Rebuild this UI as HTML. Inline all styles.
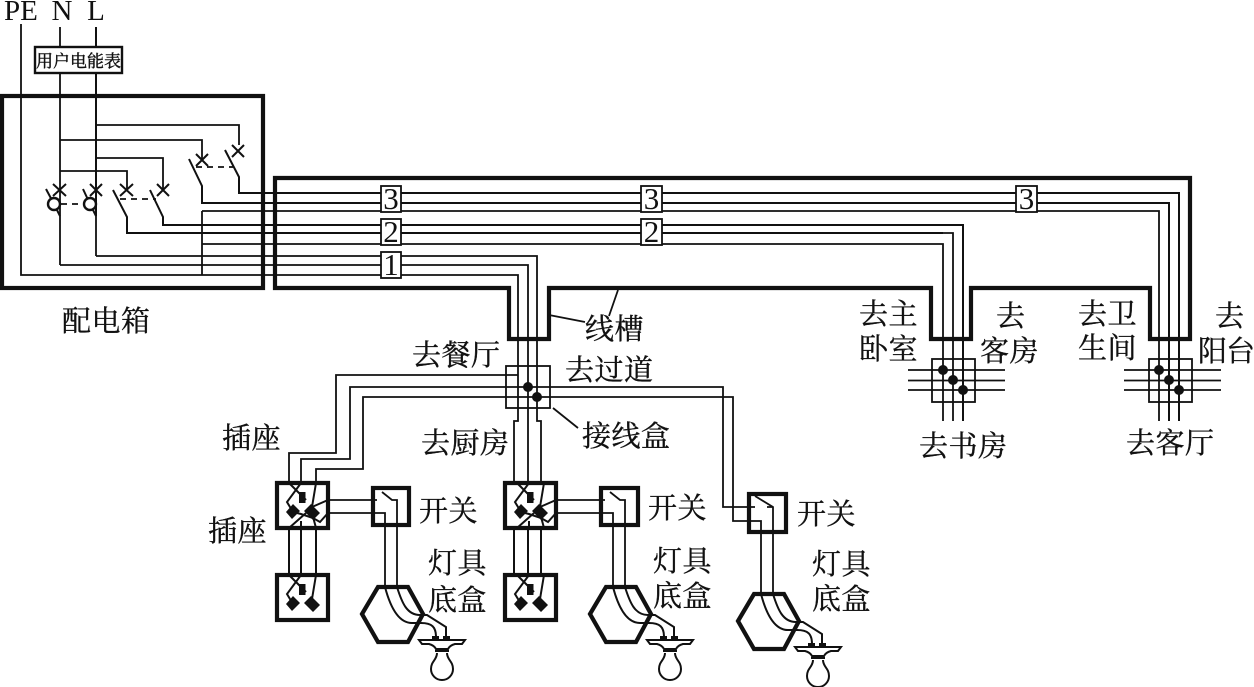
<!DOCTYPE html>
<html><head><meta charset="utf-8"><style>
html,body{margin:0;padding:0;background:#fff;width:1254px;height:687px;overflow:hidden}
svg{display:block}
text{font-family:"Liberation Serif","Noto Serif CJK SC",serif;fill:#111}
.c{font-size:29px;letter-spacing:.5px;stroke:#111;stroke-width:.35}
.n{font-size:29px;text-anchor:middle;letter-spacing:0}
.d{font-size:31px;text-anchor:middle}
.w{fill:none;stroke:#111;stroke-width:1.8}
.b{fill:none;stroke:#111;stroke-width:2}
.t{fill:none;stroke:#111;stroke-width:4.2}
</style></head><body>
<svg width="1254" height="687" viewBox="0 0 1254 687" xmlns="http://www.w3.org/2000/svg">
<defs>
<g id="sock0">
<path class="b" d="M12 0L29 17M24 0L10 19L16 29M39 0L35 24"/>
<rect x="22" y="9" width="6.500" height="11" fill="#111"/>
<path d="M16 21L23 28L15 36L9 29Z M34 21L43 30L36 37L27 28Z" fill="#111"/>
</g>
<g id="sock1">
<path class="t" d="M0 0H51V45H0Z" fill="none"/>
<use href="#sock0"/>
<path class="b" d="M51 17L35 24M51 30L43 39L36 35L24 31L16 29M12 45L29 30M39 45L35 30M24 45L24 38"/>
</g>
<g id="sock2"><rect x="0" y="0" width="51" height="45" class="t"/><use href="#sock0"/></g>
<g id="lamp">
<path class="t" d="M362 614L378 587H408L423 614L408 642H378Z"/>
<path class="b" d="M385 587C390 606 398 623 412 623H421C432 623 436 627 436 637M397 587C402 603 407 615 420 615H427L446 627V637"/>
<rect x="432" y="636" width="7" height="5" fill="#111"/><rect x="443" y="636" width="7" height="5" fill="#111"/>
<path d="M419 640H465L462 644H455C451 645 449 647 448 649H436C435 647 433 645 429 644H422Z" fill="#fff" stroke="#111" stroke-width="2"/>
<path class="b" d="M435 651H449M437 653C437 660 431 661 431 669A11 11 0 0 0 453 669C453 661 447 660 447 653"/>
</g>
</defs>

<!-- labels -->
<text x="4" y="20" class="n" style="text-anchor:start">PE</text>
<text x="62" y="20" class="n">N</text>
<text x="96" y="20" class="n">L</text>

<!-- distribution box -->
<rect x="2" y="96" width="261" height="192" class="t"/>
<!-- trough -->
<path class="t" d="M275 178H1190V339H1150V288H971V339H931V288H549V339H509V288H275Z"/>

<!-- wires in panel -->
<path class="w" d="M21 24V275H518V421H514V483"/>
<path class="w" d="M60 27V216M60 265H528V483"/>
<path class="b" d="M96 27V216" />
<path class="w" d="M96 256H537V421H541V483"/>
<path class="w" d="M96 216V256"/>
<path class="w" d="M60 216V265"/>
<path class="w" d="M96 125H239V145M60 140H202V160M96 158H163V190M60 171H127V190"/>
<path class="w" d="M202 211V275M202 244H275M202 211H1159V421M202 244H943V421"/>
<rect x="35" y="47" width="87" height="26" fill="#fff" stroke="#111" stroke-width="2.400"/>
<text x="36" y="67" style="font-size:17px;stroke:#111;stroke-width:.4">用户电能表</text>
<!-- switch X -->
<path class="b" d="M53 184L66 196M66 184L53 196M90 184L102 196M102 184L90 196M120 184L133 196M133 184L120 196M157 184L169 196M169 184L157 196M196 154L208 166M208 154L196 166M232 145L244 157M244 145L232 157"/>
<!-- blades -->
<path class="b" d="M46 189L54 204L60 216M83 189L90 204L96 216M113 190L127 217V233H943M150 190L163 217V225H963V421M189 159L202 186V203H1169V421M225 150L239 177V193H1179V421"/>
<path class="w" d="M127 233H953V421" />
<circle cx="54" cy="204" r="6" fill="#fff" stroke="#111" stroke-width="2.400"/>
<circle cx="90" cy="204" r="6" fill="#fff" stroke="#111" stroke-width="2.400"/>
<path class="w" stroke-dasharray="6 5" d="M61 204H84M120 199H156M196 167H233"/>

<!-- number tags -->
<g fill="#fff" stroke="#111" stroke-width="1.800">
<rect x="381" y="186" width="20" height="26"/><rect x="381" y="219" width="20" height="26"/><rect x="381" y="252" width="20" height="26"/>
<rect x="641" y="186" width="21" height="26"/><rect x="641" y="219" width="21" height="26"/><rect x="1016" y="186" width="21" height="26"/>
</g>
<text x="391" y="209" class="d">3</text>
<text x="391" y="242" class="d">2</text>
<text x="391" y="275" class="d">1</text>
<text x="651.500" y="209" class="d">3</text>
<text x="651.500" y="242" class="d">2</text>
<text x="1026.500" y="209" class="d">3</text>

<!-- junction boxes -->
<rect x="506" y="366" width="44" height="42" class="w"/>
<rect x="932" y="359" width="43" height="43" class="w"/>
<rect x="1149" y="359" width="43" height="43" class="w"/>
<path class="w" d="M518 375H336V453H289V483M528 387H350V459H301V483M537 397H363V469H316V483"/>
<path class="w" d="M528 387H723V507H755M537 397H733V521H761V594M773 594V507L755 496M773 507H767"/>
<path class="w" d="M908 370H1005M908 380.500H1005M908 390H1005M1124 370H1221M1124 380.500H1221M1124 390H1221"/>
<g fill="#111">
<circle cx="528" cy="387" r="5"/><circle cx="537" cy="397" r="5"/>
<circle cx="943" cy="370" r="5"/><circle cx="953" cy="380" r="5"/><circle cx="963" cy="390" r="5"/>
<circle cx="1159" cy="370" r="5"/><circle cx="1169" cy="380" r="5"/><circle cx="1179" cy="390" r="5"/>
</g>

<!-- sockets and connections -->
<g>
<use href="#sock1" x="277" y="483"/><use href="#sock2" x="277" y="575"/>
<path class="b" d="M289 528V575M301 528V575M316 528V575"/>
<path class="w" d="M328 500H377M328 513H385V587M382 492L392 500H397V587"/>
<rect x="373" y="488" width="36" height="37" class="t"/>
<use href="#lamp"/>
</g>
<g transform="translate(228 0)">
<use href="#sock1" x="277" y="483"/><use href="#sock2" x="277" y="575"/>
<path class="b" d="M286 528V575M300 528V575M313 528V575"/>
<path class="w" d="M328 500H377M328 513H385V587M382 492L392 500H397V587"/>
<rect x="373" y="488" width="37" height="37" class="t"/>
<use href="#lamp"/>
</g>
<g transform="translate(376 7)">
<rect x="373" y="487" width="37" height="38" class="t"/>
<use href="#lamp"/>
</g>

<!-- leaders -->
<path class="w" d="M549 315L585 322M618 290L609 316M553 408L578 428"/>

<!-- Chinese labels -->
<text x="62" y="331" class="c">配电箱</text>
<text x="585" y="339" class="c">线槽</text>
<text x="412" y="365" class="c">去餐厅</text>
<text x="565" y="380" class="c">去过道</text>
<text x="421" y="453" class="c">去厨房</text>
<text x="582" y="446" class="c">接线盒</text>
<text x="222" y="448" class="c">插座</text>
<text x="208" y="541" class="c">插座</text>
<text x="419" y="521" class="c">开关</text>
<text x="428" y="573" class="c">灯具</text>
<text x="428" y="610" class="c">底盒</text>
<text x="648" y="518" class="c">开关</text>
<text x="653" y="571" class="c">灯具</text>
<text x="653" y="606" class="c">底盒</text>
<text x="797" y="524" class="c">开关</text>
<text x="812" y="574" class="c">灯具</text>
<text x="812" y="609" class="c">底盒</text>
<text x="859" y="324" class="c">去主</text>
<text x="859" y="359" class="c">卧室</text>
<text x="996" y="326" class="c">去</text>
<text x="980" y="361" class="c">客房</text>
<text x="1078" y="324" class="c">去卫</text>
<text x="1078" y="358" class="c">生间</text>
<text x="1215" y="326" class="c">去</text>
<text x="1198" y="361" class="c" style="letter-spacing:-1px">阳台</text>
<text x="919" y="456" class="c">去书房</text>
<text x="1126" y="453" class="c">去客厅</text>
</svg>
</body></html>
